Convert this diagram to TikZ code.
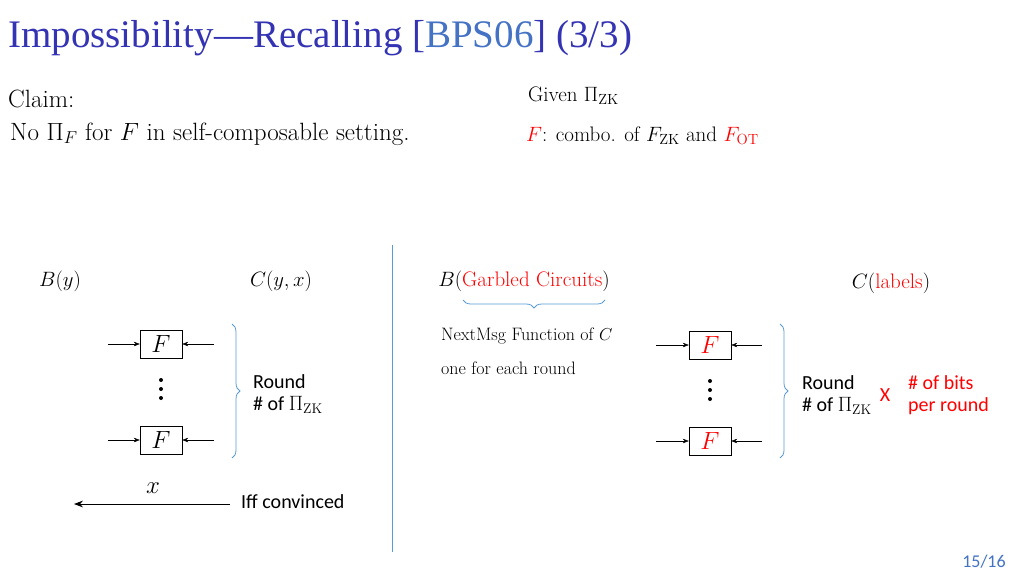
\documentclass[tikz,border=0pt]{standalone}
\usepackage{fontspec}
\newfontfamily\tnr{Liberation Serif}
\newfontfamily\calfont{Carlito}
\usetikzlibrary{decorations.pathreplacing,arrows.meta}
\definecolor{ttl}{RGB}{51,51,179}
\definecolor{cit}{RGB}{68,114,196}
\definecolor{brc}{RGB}{91,155,213}
\begin{document}
\begin{tikzpicture}[x=1pt,y=-1pt,
  fbox/.style={draw,minimum width=42pt,minimum height=28pt,inner sep=0pt,font=\fontsize{26}{26}\selectfont},
  lbl/.style={inner sep=0pt,anchor=west},
  brace/.style={draw=brc,thick,decorate,decoration={brace,amplitude=8pt}},
  arr/.style={-{Stealth[length=6pt]}},
  dot/.style={circle,fill,inner sep=0pt,minimum size=4pt}]
\useasboundingbox (0,0) rectangle (1024,576);
\node[lbl,text=ttl,font=\tnr\fontsize{39}{39}\selectfont] (title) at (8,38) {Impossibility—Recalling [{\color{cit}BPS06}] (3/3)};
\node[lbl,font=\fontsize{25}{25}\selectfont] (claim) at (8,99) {Claim:};
\node[lbl,font=\fontsize{25}{25}\selectfont] (no) at (10,134) {No $\Pi_F$ for $F$ in self-composable setting.};
\node[lbl,font=\fontsize{21}{21}\selectfont] (given) at (528,96) {Given $\Pi_{\mathrm{ZK}}$};
\node[lbl,font=\fontsize{21}{21}\selectfont] (combo) at (526,136) {{\color{red}$F$}: combo. of $F_{\mathrm{ZK}}$ and {\color{red}$F_{\mathrm{OT}}$}};
\draw[brc] (392,245) -- (392,552);
% left
\node[font=\fontsize{21}{21}\selectfont] (B) at (60,281) {$B(y)$};
\node[font=\fontsize{21}{21}\selectfont] (C) at (281,281) {$C(y,x)$};
\node[fbox] (f1) at (161,344) {$F$};
\node[fbox] (f2) at (161,440) {$F$};
\coordinate (a1) at (108,344); \coordinate (b1) at (214,344);
\coordinate (a2) at (108,440); \coordinate (b2) at (214,440);
\draw[arr] (a1) -- (f1); \draw[arr] (b1) -- (f1);
\draw[arr] (a2) -- (f2); \draw[arr] (b2) -- (f2);
\node[dot] (d1a) at (161,380) {}; \node[dot] (d1b) at (161,389) {}; \node[dot] (d1c) at (161,398) {};
\draw[brace] (232,324) -- (232,458);
\node[lbl,font=\calfont\fontsize{20}{20}\selectfont,align=left,anchor=west] (r1) at (253,394) {Round\\[2pt]\# of {\normalfont\fontsize{20}{20}\selectfont$\Pi_{\mathrm{ZK}}$}};
\node[font=\fontsize{28}{28}\selectfont] (x) at (153,488) {$x$};
\coordinate (xs) at (230,504); \coordinate (xe) at (74,504);
\draw[arr,thick,-{Stealth[length=9pt]}] (xs) -- (xe);
\node[lbl,font=\calfont\fontsize{20}{20}\selectfont] (iff) at (241,502) {Iff convinced};
% right
\node[font=\fontsize{21}{21}\selectfont] (B2) at (524,281) {$B(${\color{red}Garbled Circuits}$)$};
\draw[brace] (605,300) -- (463,300);
\node[lbl,font=\fontsize{18}{18}\selectfont] (nm) at (441,336) {NextMsg Function of $C$};
\node[lbl,font=\fontsize{18}{18}\selectfont] (one) at (441,368) {one for each round};
\node[font=\fontsize{21}{21}\selectfont] (C2) at (891,283) {$C(${\color{red}labels}$)$};
\node[fbox,text=red] (g1) at (710,345) {$F$};
\node[fbox,text=red] (g2) at (710,441) {$F$};
\coordinate (c1) at (656,345); \coordinate (e1) at (762,345);
\coordinate (c2) at (656,441); \coordinate (e2) at (762,441);
\draw[arr] (c1) -- (g1); \draw[arr] (e1) -- (g1);
\draw[arr] (c2) -- (g2); \draw[arr] (e2) -- (g2);
\node[dot] (d2a) at (710,381) {}; \node[dot] (d2b) at (710,390) {}; \node[dot] (d2c) at (710,399) {};
\draw[brace] (780,324) -- (780,458);
\node[lbl,font=\calfont\fontsize{20}{20}\selectfont,align=left] (r2) at (802,395) {Round\\[2pt]\# of {\normalfont\fontsize{20}{20}\selectfont$\Pi_{\mathrm{ZK}}$}};
\node[font=\calfont\fontsize{20}{20}\selectfont,text=red] (X) at (885,395) {X};
\node[lbl,font=\calfont\fontsize{20}{20}\selectfont,text=red,align=left] (bits) at (908,395) {\# of bits\\[2pt]per round};
\node[font=\calfont\fontsize{18}{18}\selectfont,text=cit] (pg) at (984,562) {15/16};
\end{tikzpicture}
\end{document}
